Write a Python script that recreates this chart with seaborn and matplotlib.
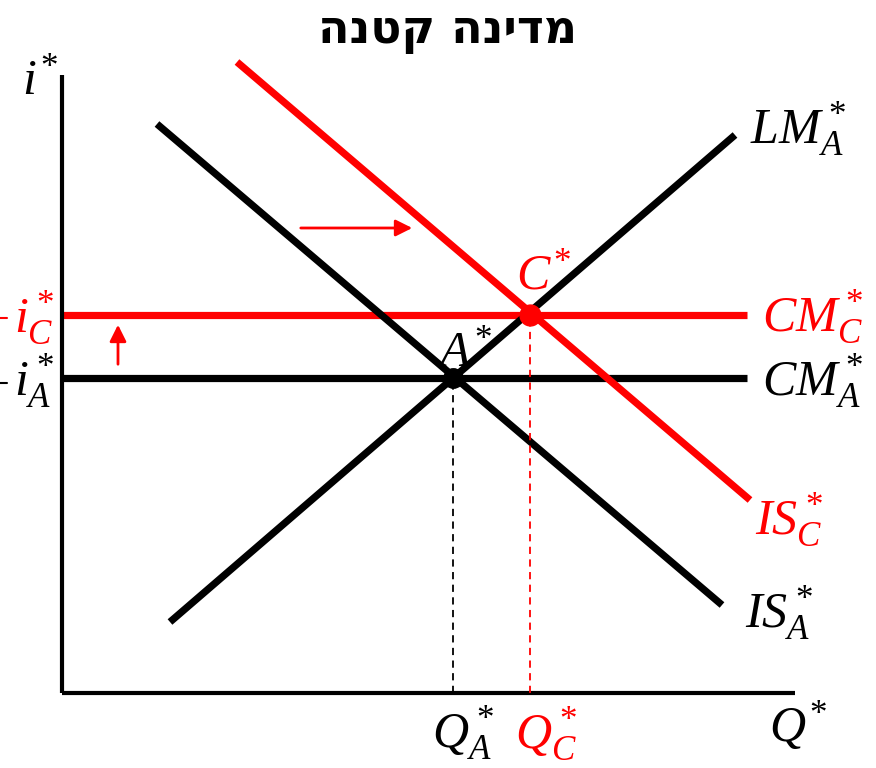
import matplotlib
matplotlib.use("Agg")
import matplotlib.pyplot as plt
import pandas as pd
import seaborn as sns

# --- data (units: output Q*, interest rate i*) ---
title_he = "מדינה קטנה"

lm_a_q = [108, 673]
lm_a_i = [71, 558]
is_a_q = [95, 660]
is_a_i = [569, 88]
is_c_q = [175, 688]
is_c_i = [631, 193]
cm_q = [0, 685]
cm_a_i = [315, 315]
cm_c_i = [378, 378]

eq_a_q, eq_a_i = 391, 315
eq_c_q, eq_c_i = 468, 378

q_axis = [0, 733]
i_axis = [0, 618]

RED = "#ff0000"
BLACK = "#000000"

sns.set_theme(style="white")
plt.rcParams["font.family"] = ["DejaVu Sans"]
plt.rcParams["mathtext.fontset"] = "custom"
plt.rcParams["mathtext.rm"] = "Liberation Serif"
plt.rcParams["mathtext.it"] = "Liberation Serif:italic"
plt.rcParams["mathtext.bf"] = "Liberation Serif:bold"

fig = plt.figure(figsize=(8.76, 7.68), dpi=100)
ax = fig.add_axes([0, 0, 1, 1])
ax.set_xlim(-62, 814)
ax.set_ylim(-75, 693)
ax.axis("off")

curves = pd.DataFrame({
    "curve": ["LM_A"] * 2 + ["IS_A"] * 2 + ["IS_C"] * 2 + ["CM_A"] * 2 + ["CM_C"] * 2,
    "Q": lm_a_q + is_a_q + is_c_q + cm_q + cm_q,
    "i": lm_a_i + is_a_i + is_c_i + cm_a_i + cm_c_i,
})
colors = {"LM_A": BLACK, "IS_A": BLACK, "CM_A": BLACK, "IS_C": RED, "CM_C": RED}

for name, grp in curves.groupby("curve"):
    sns.lineplot(data=grp, x="Q", y="i", ax=ax, color=colors[name], lw=5.2,
                 sort=False, estimator=None, solid_capstyle="butt", legend=False)

# axes
ax.plot([0, 0], i_axis, color=BLACK, lw=3, solid_capstyle="butt")
ax.plot(q_axis, [0, 0], color=BLACK, lw=3, solid_capstyle="butt")

# dashed guides
ax.plot([eq_a_q, eq_a_q], [0, eq_a_i], color=BLACK, lw=1.3, dashes=(4, 3))
ax.plot([eq_c_q, eq_c_q], [0, eq_c_i], color=RED, lw=1.3, dashes=(4, 3))

# equilibrium points
ax.plot([eq_a_q], [eq_a_i], "o", color=BLACK, ms=14, zorder=5)
ax.plot([eq_c_q], [eq_c_i], "o", color=RED, ms=15, zorder=5)

# shift arrows
ax.annotate("", xy=(353, 465), xytext=(236, 465),
            arrowprops=dict(arrowstyle="-|>", color=RED, lw=2, mutation_scale=25))
ax.annotate("", xy=(56, 371), xytext=(56, 326),
            arrowprops=dict(arrowstyle="-|>", color=RED, lw=2, mutation_scale=25))

# small dashes left of the vertical-axis labels
ax.plot([-62, -55], [375, 375], color=RED, lw=1.5)
ax.plot([-62, -55], [310, 310], color=BLACK, lw=1.5)

fs = 36
lab = dict(va="center", fontsize=fs)
ax.text(-22, 613, r"$i^{\!*}$", ha="center", color=BLACK, **lab)
ax.text(688, 563, r"$LM_A^*$", ha="left", color=BLACK, **lab)
ax.text(700, 376, r"$CM_C^*$", ha="left", color=RED, **lab)
ax.text(700, 311, r"$CM_A^*$", ha="left", color=BLACK, **lab)
ax.text(693, 173, r"$IS_C^*$", ha="left", color=RED, **lab)
ax.text(683, 79, r"$IS_A^*$", ha="left", color=BLACK, **lab)
ax.text(403, 341, r"$A^{\!*}$", ha="center", color=BLACK, **lab)
ax.text(482, 418, r"$C^{\!*}$", ha="center", color=RED, **lab)
ax.text(401, -41, r"$Q_A^*$", ha="center", color=BLACK, **lab)
ax.text(484, -41, r"$Q_C^*$", ha="center", color=RED, **lab)
ax.text(736, -33, r"$Q^{\!*}$", ha="center", color=BLACK, **lab)
ax.text(-28, 375, r"$i_C^*$", ha="center", color=RED, **lab)
ax.text(-28, 311, r"$i_A^*$", ha="center", color=BLACK, **lab)

# Hebrew title (reversed for left-to-right rendering)
fig.text(448 / 876, 1 - 31 / 768, title_he[::-1], ha="center", va="center",
         fontsize=33, fontweight="bold", color=BLACK, family=["DejaVu Sans"])

fig.savefig("out.png", dpi=100)
